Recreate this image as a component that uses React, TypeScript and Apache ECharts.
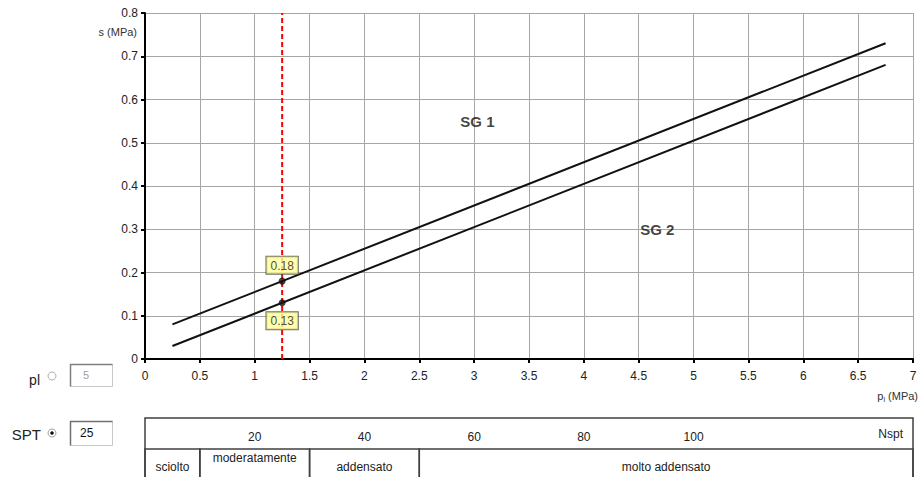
import React, { useEffect, useRef } from "react";
import * as echarts from "echarts";

// ---- data ----
const lineX = [0.25, 6.75];
const sg1Y = [0.08, 0.73];
const sg2Y = [0.03, 0.68];
const plMarker = 1.25; // pl corresponding to SPT = 25
const markerValues = [0.18, 0.13];
const regionNames = ["SG 1", "SG 2"];
const regionX = [3.03, 4.67];
const regionY = [0.55, 0.3];
const nsptTicks = [20, 40, 60, 80, 100];
const densityClasses = ["sciolto", "moderatamente", "addensato", "molto addensato"];
const densityBounds = [0, 10, 30, 50, 140];
const sptInput = "25";
const plInput = "5";

const FONT = "'Liberation Sans', Arial, sans-serif";

export default function App() {
  const ref = useRef<HTMLDivElement>(null);

  useEffect(() => {
    document.body.style.margin = "0";
    if (!ref.current) return;
    const chart = echarts.init(ref.current, null, { renderer: "svg" });

    const cellData = densityClasses.map((c, i) => [densityBounds[i], densityBounds[i + 1], c]);

    const option: any = {
      animation: false,
      textStyle: { fontFamily: FONT },
      grid: [
        { left: 145, top: 13, right: 8, height: 346 },
        {
          left: 145,
          top: 418,
          right: 8,
          height: 59,
          show: false,
        },
      ],
      xAxis: [
        {
          gridIndex: 0,
          type: "value",
          min: 0,
          max: 7,
          interval: 0.5,
          axisLine: { show: true, onZero: false, lineStyle: { color: "#000", width: 2 } },
          axisTick: { show: true, length: 4, lineStyle: { color: "#000", width: 2 } },
          axisLabel: { margin: 11, color: "#222", fontSize: 12, fontFamily: FONT },
          splitLine: { show: true, lineStyle: { color: "#a6a6a6", width: 1 } },
        },
        {
          gridIndex: 1,
          type: "value",
          min: 0,
          max: 140,
          show: false,
        },
      ],
      yAxis: [
        {
          gridIndex: 0,
          type: "value",
          min: 0,
          max: 0.8,
          interval: 0.1,
          axisLine: { show: true, onZero: false, lineStyle: { color: "#000", width: 2 } },
          axisTick: { show: true, length: 4, lineStyle: { color: "#000", width: 2 } },
          axisLabel: { margin: 7, color: "#222", fontSize: 12, fontFamily: FONT },
          splitLine: { show: true, lineStyle: { color: "#a6a6a6", width: 1 } },
        },
        {
          gridIndex: 1,
          type: "value",
          min: 0,
          max: 1.9,
          inverse: true,
          show: false,
        },
      ],
      series: [
        {
          type: "line",
          xAxisIndex: 0,
          yAxisIndex: 0,
          data: lineX.map((x, i) => [x, sg1Y[i]]),
          showSymbol: false,
          lineStyle: { color: "#111", width: 2 },
          silent: true,
        },
        {
          type: "line",
          xAxisIndex: 0,
          yAxisIndex: 0,
          data: lineX.map((x, i) => [x, sg2Y[i]]),
          showSymbol: false,
          lineStyle: { color: "#111", width: 2 },
          silent: true,
        },
        {
          type: "line",
          xAxisIndex: 0,
          yAxisIndex: 0,
          data: [
            [plMarker, 0],
            [plMarker, 0.8],
          ],
          showSymbol: false,
          lineStyle: { color: "#ff0000", width: 2, type: [5, 3] },
          silent: true,
        },
        {
          type: "scatter",
          xAxisIndex: 0,
          yAxisIndex: 0,
          symbol: "circle",
          symbolSize: 7,
          itemStyle: { color: "#111" },
          data: markerValues.map((v, i) => ({
            value: [plMarker, v],
            label: {
              show: true,
              position: i === 0 ? "top" : "bottom",
              distance: i === 0 ? 4 : 6,
              formatter: String(v),
              backgroundColor: "#ffff99",
              borderColor: "#4a4a3a",
              borderWidth: 1,
              padding: [3, 4, 2, 4],
              color: "#222",
              fontSize: 12,
              fontFamily: FONT,
            },
          })),
          z: 5,
        },
        {
          type: "scatter",
          xAxisIndex: 0,
          yAxisIndex: 0,
          symbolSize: 0,
          data: regionNames.map((n, i) => ({
            value: [regionX[i], regionY[i]],
            name: n,
          })),
          label: {
            show: true,
            position: "inside",
            formatter: (p: any) => p.name,
            fontWeight: "bold",
            fontSize: 15,
            color: "#111",
            fontFamily: FONT,
          },
          silent: true,
        },
        {
          type: "custom",
          xAxisIndex: 1,
          yAxisIndex: 1,
          data: [[0, 140]],
          silent: true,
          clip: false,
          renderItem: (params: any, api: any) => {
            const p0 = api.coord([api.value(0), 0]);
            const p1 = api.coord([api.value(1), 2.3]);
            return {
              type: "rect",
              shape: { x: p0[0], y: p0[1], width: p1[0] - p0[0], height: p1[1] - p0[1] },
              style: { fill: "none", stroke: "#404040", lineWidth: 1.5 },
            };
          },
        },
        {
          type: "custom",
          xAxisIndex: 1,
          yAxisIndex: 1,
          data: cellData,
          silent: true,
          clip: false,
          renderItem: (params: any, api: any) => {
            const x0 = api.value(0);
            const x1 = api.value(1);
            const label = api.value(2);
            const p0 = api.coord([x0, 1]);
            const p1 = api.coord([x1, 2.3]);
            const mid = api.coord([x0, 1.5]);
            const top = label === "moderatamente";
            return {
              type: "group",
              children: [
                {
                  type: "rect",
                  shape: { x: p0[0], y: p0[1], width: p1[0] - p0[0], height: p1[1] - p0[1] },
                  style: { fill: "none", stroke: "#404040", lineWidth: 1.5 },
                },
                {
                  type: "text",
                  style: {
                    text: label,
                    x: (p0[0] + p1[0]) / 2,
                    y: top ? p0[1] + 3 : mid[1] + 2,
                    align: "center",
                    verticalAlign: top ? "top" : "middle",
                    fill: "#222",
                    fontSize: 12,
                    fontFamily: FONT,
                  },
                },
              ],
            };
          },
        },
        {
          type: "custom",
          xAxisIndex: 1,
          yAxisIndex: 1,
          data: nsptTicks.map((v) => [v]),
          silent: true,
          renderItem: (params: any, api: any) => {
            const p = api.coord([api.value(0), 0.6]);
            return {
              type: "text",
              style: {
                text: String(api.value(0)),
                x: p[0],
                y: p[1],
                align: "center",
                verticalAlign: "middle",
                fill: "#222",
                fontSize: 12,
                fontFamily: FONT,
              },
            };
          },
        },
      ],
      graphic: [
        {
          type: "text",
          x: 137,
          y: 32,
          style: {
            text: "s (MPa)",
            align: "right",
            verticalAlign: "middle",
            fill: "#333",
            fontSize: 11,
            fontFamily: FONT,
          },
        },
        {
          type: "text",
          x: 918,
          y: 396,
          style: {
            text: "{a|p}{b|l}{a| (MPa)}",
            align: "right",
            verticalAlign: "middle",
            fill: "#333",
            fontFamily: FONT,
            rich: {
              a: { fontSize: 11, fill: "#333", fontFamily: FONT },
              b: { fontSize: 7, fill: "#333", fontFamily: FONT, padding: [6, 0, 0, 0] },
            },
          },
        },
        {
          type: "text",
          x: 903,
          y: 434,
          style: {
            text: "Nspt",
            align: "right",
            verticalAlign: "middle",
            fill: "#222",
            fontSize: 12,
            fontFamily: FONT,
          },
        },
        // pl control
        {
          type: "text",
          x: 40,
          y: 380,
          style: {
            text: "pl",
            align: "right",
            verticalAlign: "middle",
            fill: "#1a1a33",
            fontSize: 14,
            fontFamily: FONT,
          },
        },
        {
          type: "circle",
          shape: { cx: 52, cy: 376, r: 4 },
          style: { fill: "#fff", stroke: "#b0b0b0", lineWidth: 1 },
        },
        {
          type: "rect",
          shape: { x: 70.5, y: 364.5, width: 42, height: 22 },
          style: { fill: "#fff", stroke: "#c8c8c8", lineWidth: 1 },
        },
        {
          type: "polyline",
          shape: { points: [[70.5, 386.5], [70.5, 364.5], [112.5, 364.5]] },
          style: { stroke: "#808080", lineWidth: 1.5, fill: "none" },
        },
        {
          type: "text",
          x: 83,
          y: 375,
          style: {
            text: plInput,
            align: "left",
            verticalAlign: "middle",
            fill: "#a0a0a0",
            fontSize: 11,
            fontFamily: FONT,
          },
        },
        // SPT control
        {
          type: "text",
          x: 41,
          y: 434,
          style: {
            text: "SPT",
            align: "right",
            verticalAlign: "middle",
            fill: "#222",
            fontSize: 15,
            fontFamily: FONT,
          },
        },
        {
          type: "circle",
          shape: { cx: 52, cy: 433, r: 4 },
          style: { fill: "#fff", stroke: "#a0a0a0", lineWidth: 1 },
        },
        {
          type: "circle",
          shape: { cx: 52, cy: 433, r: 1.8 },
          style: { fill: "#111" },
        },
        {
          type: "rect",
          shape: { x: 70.5, y: 421.5, width: 42, height: 24 },
          style: { fill: "#fff", stroke: "#c8c8c8", lineWidth: 1 },
        },
        {
          type: "polyline",
          shape: { points: [[70.5, 445.5], [70.5, 421.5], [112.5, 421.5]] },
          style: { stroke: "#707070", lineWidth: 1.5, fill: "none" },
        },
        {
          type: "text",
          x: 80,
          y: 433,
          style: {
            text: sptInput,
            align: "left",
            verticalAlign: "middle",
            fill: "#111",
            fontSize: 12,
            fontFamily: FONT,
          },
        },
      ],
    };

    chart.setOption(option);
    return () => chart.dispose();
  }, []);

  return <div ref={ref} style={{ width: 921, height: 477 }} />;
}
